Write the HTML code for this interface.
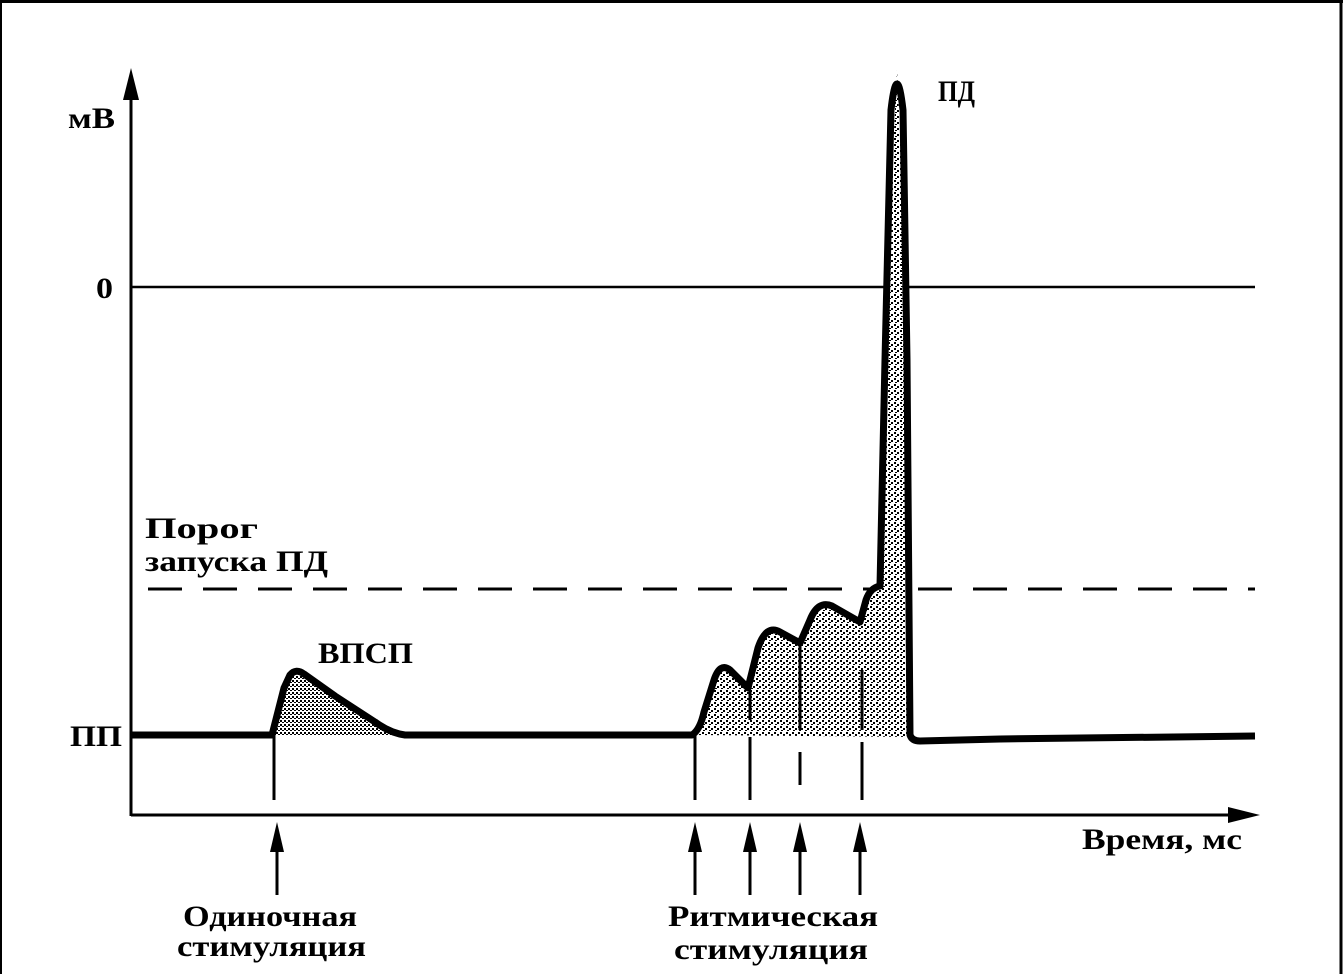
<!DOCTYPE html>
<html><head><meta charset="utf-8"><style>
html,body{margin:0;padding:0;background:#fff;}
svg{display:block;}
text{font-family:"Liberation Serif","DejaVu Serif",serif;font-weight:bold;fill:#000;}
</style></head><body>
<svg width="1343" height="974" viewBox="0 0 1343 974" xmlns="http://www.w3.org/2000/svg">
<defs>
<pattern id="st" width="6" height="6" patternUnits="userSpaceOnUse">
<rect width="6" height="6" fill="#fff"/>
<rect x="0" y="0" width="2" height="2" fill="#000"/>
<rect x="3" y="2" width="2" height="2" fill="#000"/>
<rect x="1" y="4" width="2" height="1" fill="#000"/>
</pattern>
<pattern id="st2" width="4" height="4" patternUnits="userSpaceOnUse">
<rect width="4" height="4" fill="#fff"/>
<rect x="0" y="0" width="2" height="2" fill="#000"/>
<rect x="2" y="2" width="2" height="1" fill="#000"/>
</pattern>
</defs>
<line x1="0" y1="1.5" x2="1343" y2="1.5" stroke="#000" stroke-width="3"/>
<line x1="1" y1="0" x2="1" y2="974" stroke="#000" stroke-width="2"/>
<line x1="1341" y1="0" x2="1341" y2="974" stroke="#000" stroke-width="3"/>
<line x1="131" y1="90" x2="131" y2="816" stroke="#000" stroke-width="3"/>
<polygon points="131,68 123,100 139,100" fill="#000"/>
<line x1="131" y1="815" x2="1230" y2="815" stroke="#000" stroke-width="3"/>
<polygon points="1260,815 1228,807 1228,823" fill="#000"/>
<line x1="131" y1="287" x2="1255" y2="287" stroke="#000" stroke-width="2.5"/>
<line x1="148" y1="589" x2="1255" y2="589" stroke="#000" stroke-width="3" stroke-dasharray="34,21"/>
<path d="M274,735 L290,675 L296,671 L330,692 L400,735 Z" fill="url(#st2)"/>
<path d="M695,735 L715,676 L724,666 L748,688 L760,638 L770,628 L800,643 L813,612 L824,605 L860,622 L868,596 L878,588 L886,290 L897,70 L908,290 L912,737 Z" fill="url(#st)"/>
<path d="M131,735 L272,735 L284,688 L290,675 Q296,668 304,674 L335,696 L375,722 Q390,733 405,735 L692,735 Q700,730 704,712 L714,680 Q720,662 730,670 L748,688 L758,648 Q766,624 780,632 L800,643 L810,620 Q818,600 832,606 L860,622 L866,600 Q870,588 880,586 L885,360 L891,110 Q897,58 903,110 L907,360 L910,735 Q912,741 920,741 L1000,739 L1255,736" fill="none" stroke="#000" stroke-width="7" stroke-linejoin="round"/>
<g stroke="#000" stroke-width="3">
<line x1="274" y1="735" x2="274" y2="800"/>
<line x1="695" y1="735" x2="695" y2="800"/>
<line x1="750" y1="690" x2="750" y2="720"/>
<line x1="750" y1="737" x2="750" y2="800"/>
<line x1="800" y1="645" x2="800" y2="730"/>
<line x1="800" y1="752" x2="800" y2="785"/>
<line x1="862" y1="670" x2="862" y2="730"/>
<line x1="862" y1="742" x2="862" y2="800"/>
</g>
<g stroke="#000" stroke-width="3">
<line x1="277" y1="845" x2="277" y2="895"/>
<line x1="695" y1="845" x2="695" y2="895"/>
<line x1="750" y1="845" x2="750" y2="895"/>
<line x1="800" y1="845" x2="800" y2="895"/>
<line x1="860" y1="845" x2="860" y2="895"/>
</g>
<g fill="#000">
<polygon points="277,822 270,852 284,852"/>
<polygon points="695,822 688,852 702,852"/>
<polygon points="750,822 743,852 757,852"/>
<polygon points="800,822 793,852 807,852"/>
<polygon points="860,822 853,852 867,852"/>
</g>
<text x="68" y="128" font-size="30" textLength="47" lengthAdjust="spacingAndGlyphs">мВ</text>
<text x="96" y="298" font-size="30" textLength="17" lengthAdjust="spacingAndGlyphs">0</text>
<text x="70" y="746" font-size="30" textLength="52" lengthAdjust="spacingAndGlyphs">ПП</text>
<text x="145" y="538" font-size="30" textLength="113" lengthAdjust="spacingAndGlyphs">Порог</text>
<text x="145" y="571" font-size="30" textLength="183" lengthAdjust="spacingAndGlyphs">запуска ПД</text>
<text x="318" y="663" font-size="30" textLength="95" lengthAdjust="spacingAndGlyphs">ВПСП</text>
<text x="938" y="101" font-size="30" textLength="37" lengthAdjust="spacingAndGlyphs">ПД</text>
<text x="1082" y="849" font-size="30" textLength="160" lengthAdjust="spacingAndGlyphs">Время, мс</text>
<text x="183" y="926" font-size="30" textLength="174" lengthAdjust="spacingAndGlyphs">Одиночная</text>
<text x="177" y="956" font-size="30" textLength="189" lengthAdjust="spacingAndGlyphs">стимуляция</text>
<text x="668" y="926" font-size="30" textLength="210" lengthAdjust="spacingAndGlyphs">Ритмическая</text>
<text x="674" y="959" font-size="30" textLength="194" lengthAdjust="spacingAndGlyphs">стимуляция</text>
</svg>
</body></html>
